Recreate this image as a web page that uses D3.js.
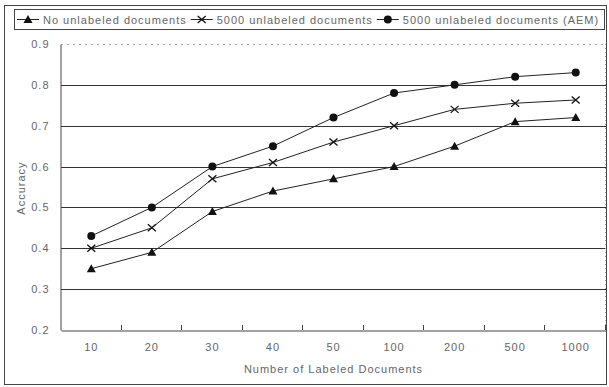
<!DOCTYPE html>
<html><head><meta charset="utf-8">
<script src="https://cdn.jsdelivr.net/npm/d3@7"></script>
<style>body{margin:0;background:#fff}svg{display:block}text{font-family:"Liberation Sans",Arial,sans-serif;letter-spacing:1px}</style>
</head><body>
<script>
const categories = ["10","20","30","40","50","100","200","500","1000"];
const noUnlabeled = [0.35,0.39,0.49,0.54,0.57,0.60,0.65,0.71,0.72];
const unlabeled5000 = [0.40,0.45,0.57,0.61,0.66,0.70,0.74,0.755,0.763];
const unlabeledAEM = [0.43,0.50,0.60,0.65,0.72,0.78,0.80,0.82,0.83];
const yTicks = [0.2,0.3,0.4,0.5,0.6,0.7,0.8,0.9];
const seriesNames = ["No unlabeled documents","5000 unlabeled documents","5000 unlabeled documents (AEM)"];

const W=609,H=387;
const svg=d3.select("body").append("svg").attr("width",W).attr("height",H);
svg.append("rect").attr("x",4.5).attr("y",5.5).attr("width",602).attr("height",379).attr("fill","none").attr("stroke","#444");

const L=61,R=606,T=44,B=330;
const x=d3.scaleBand().domain(categories).range([L,R]);
const y=d3.scaleLinear().domain([0.2,0.9]).range([B,T]);

svg.append("g").selectAll("line").data(yTicks.filter(v=>v>0.2&&v<0.9)).join("line")
 .attr("x1",L).attr("x2",R).attr("y1",d=>Math.round(y(d))+0.5).attr("y2",d=>Math.round(y(d))+0.5)
 .attr("stroke","#333").attr("stroke-width",1);
svg.append("line").attr("x1",L).attr("x2",R).attr("y1",Math.round(y(0.9))+0.5).attr("y2",Math.round(y(0.9))+0.5)
 .attr("stroke","#aaa").attr("stroke-dasharray","2,4");
svg.append("line").attr("x1",R-0.5).attr("x2",R-0.5).attr("y1",T).attr("y2",B)
 .attr("stroke","#aaa").attr("stroke-dasharray","1,3");

const yAxis=d3.axisLeft(y).tickValues(yTicks).tickFormat(d3.format(".1f")).tickSize(0).tickPadding(11);
const gy=svg.append("g").attr("transform",`translate(${L-0.5},0)`).call(yAxis);
gy.select(".domain").attr("stroke","#444");
gy.selectAll("text").attr("fill","#666").style("font-size","11px");

const xAxis=d3.axisBottom(x).tickSize(0).tickPadding(13);
const gx=svg.append("g").attr("transform",`translate(0,${B+0.5})`).call(xAxis);
gx.select(".domain").attr("stroke","#444");
gx.selectAll("text").attr("fill","#666").style("font-size","11px");
svg.append("g").selectAll("line").data(d3.range(1,categories.length+1)).join("line")
 .attr("x1",i=>Math.round(L+x.step()*i)-0.5).attr("x2",i=>Math.round(L+x.step()*i)-0.5)
 .attr("y1",B).attr("y2",B-5).attr("stroke","#444");

svg.append("text").attr("transform",`translate(24.5,${(T+B)/2+1}) rotate(-90)`).attr("text-anchor","middle")
 .attr("fill","#666").style("font-size","11px").text("Accuracy");
svg.append("text").attr("x",(L+R)/2).attr("y",372.5).attr("text-anchor","middle")
 .attr("fill","#666").style("font-size","11px").text("Number of Labeled Documents");

const cx=d=>x(d)+x.bandwidth()/2;
const line=d3.line().x((d,i)=>cx(categories[i])).y(d=>y(d));
const series=[noUnlabeled,unlabeled5000,unlabeledAEM];
const markers=["tri","x","circle"];

function drawMarker(g,type,px,py){
  if(type==="tri"){
    g.append("path").attr("d",`M${px},${py-4.5}L${px+4.5},${py+3.5}L${px-4.5},${py+3.5}Z`).attr("fill","#111");
  }else if(type==="x"){
    g.append("path").attr("d",`M${px-4},${py-3.5}L${px+4},${py+3.5}M${px-4},${py+3.5}L${px+4},${py-3.5}`)
     .attr("stroke","#111").attr("stroke-width",1.3).attr("fill","none");
  }else{
    g.append("circle").attr("cx",px).attr("cy",py).attr("r",4).attr("fill","#111");
  }
}

series.forEach((s,k)=>{
  svg.append("path").datum(s).attr("d",line).attr("fill","none").attr("stroke","#222").attr("stroke-width",1);
  const g=svg.append("g");
  s.forEach((v,i)=>drawMarker(g,markers[k],cx(categories[i]),y(v)));
});

svg.append("rect").attr("x",14.5).attr("y",9.5).attr("width",590).attr("height",20).attr("fill","#fff").attr("stroke","#444");
let lx=17;
seriesNames.forEach((n,k)=>{
  const g=svg.append("g");
  g.append("line").attr("x1",lx).attr("x2",lx+22).attr("y1",19.5).attr("y2",19.5).attr("stroke","#222");
  drawMarker(g,markers[k],lx+11,19.5);
  const t=g.append("text").attr("x",lx+26).attr("y",23.5).attr("fill","#666").style("font-size","11px").text(n);
  lx = lx+26+t.node().getComputedTextLength()+4;
});
</script>
</body></html>
